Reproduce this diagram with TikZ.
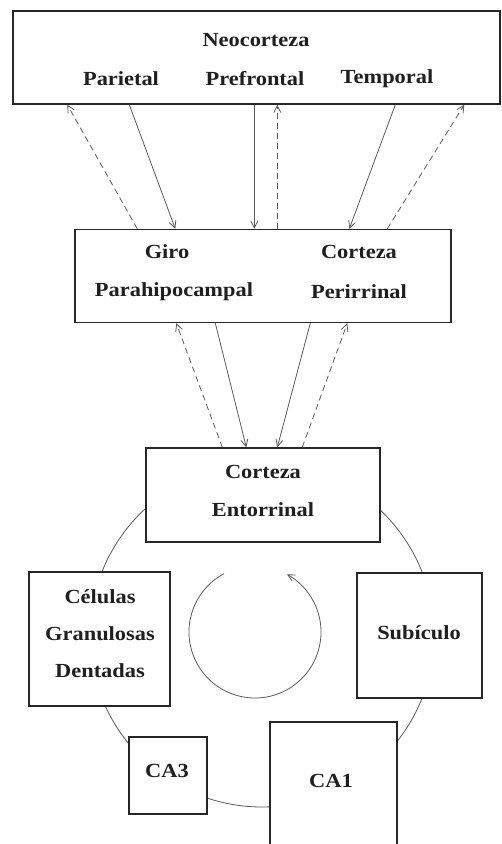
\documentclass[tikz,border=0pt]{standalone}
\usepackage{fontspec}
\setmainfont{Liberation Serif}[FakeStretch=1.12]
\usetikzlibrary{arrows.meta}

\tikzset{
  box/.style={draw=black!85, line width=1.4pt, fill=white, inner sep=0pt},
  lbl/.style={font=\fontsize{20}{24}\selectfont\bfseries, text=black!88},
  fwd/.style={draw=black!65, line width=0.8pt, -{Straight Barb[length=7pt,width=7pt]}},
  back/.style={fwd, dash pattern=on 6pt off 4pt},
}

\begin{document}
\begin{tikzpicture}[x=1pt,y=1pt]
\useasboundingbox (0,0) rectangle (502,844);
\clip (0,0) rectangle (502,844);

% Loop through the hippocampal formation
\draw[black!65, line width=0.8pt] (262,209) circle (172);
% Direction of the loop
\draw[fwd] (255,212) ++(118:66) arc (118:421:66);

% Boxes
\node[box, minimum width=487pt, minimum height=93pt] (neo) at (256.5,786.5) {};
\node[box, minimum width=376pt, minimum height=93pt] (para) at (263,568) {};
\node[box, minimum width=234pt, minimum height=94pt] (ento) at (263,349) {};
\node[box, minimum width=141pt, minimum height=134pt] (dent) at (99.5,205) {};
\node[box, minimum width=125pt, minimum height=125pt] (sub) at (419.5,208.5) {};
\node[box, minimum width=78pt, minimum height=77pt] (ca3) at (168,68.5) {};
\node[box, minimum width=127pt, minimum height=170pt] (ca1) at (333.5,37) {};

% Labels
\node[lbl] (neotitle) at (256,804) {Neocorteza};
\node[lbl] (parietal) at (121,765) {Parietal};
\node[lbl] (prefrontal) at (255,765) {Prefrontal};
\node[lbl] (temporal) at (387,765) {Temporal};
\node[lbl] (giro) at (167,592) {Giro};
\node[lbl] (parahip) at (174,552) {Parahipocampal};
\node[lbl] (perititle) at (359,592) {Corteza};
\node[lbl] (perirr) at (359,552) {Perirrinal};
\node[lbl] (entotitle) at (263,372) {Corteza};
\node[lbl] (entorr) at (263,334) {Entorrinal};
\node[lbl] (celulas) at (100,247) {Células};
\node[lbl] (granul) at (100,210) {Granulosas};
\node[lbl] (dentadas) at (100,173) {Dentadas};
\node[lbl] (subiculo) at (419,211) {Subículo};
\node[lbl] (ca3lbl) at (167,73) {CA3};
\node[lbl] (ca1lbl) at (331,63) {CA1};

% Neocorteza <-> parahippocampal / perirhinal
\draw[back] ([xshift=63pt]para.north west) -- ([xshift=55pt]neo.south west);
\draw[fwd] ([xshift=117pt]neo.south west) -- ([xshift=101pt]para.north west);
\draw[fwd] ([xshift=242pt]neo.south west) -- ([xshift=180pt]para.north west);
\draw[back] ([xshift=203pt]para.north west) -- ([xshift=265pt]neo.south west);
\draw[fwd] ([xshift=383pt]neo.south west) -- ([xshift=275pt]para.north west);
\draw[back] ([xshift=313pt]para.north west) -- ([xshift=452pt]neo.south west);

% Parahippocampal / perirhinal <-> entorhinal
\draw[back] ([xshift=77pt]ento.north west) -- ([xshift=102pt]para.south west);
\draw[fwd] ([xshift=141pt]para.south west) -- ([xshift=101pt]ento.north west);
\draw[fwd] ([xshift=236pt]para.south west) -- ([xshift=132pt]ento.north west);
\draw[back] ([xshift=157pt]ento.north west) -- ([xshift=273pt]para.south west);
\end{tikzpicture}
\end{document}
